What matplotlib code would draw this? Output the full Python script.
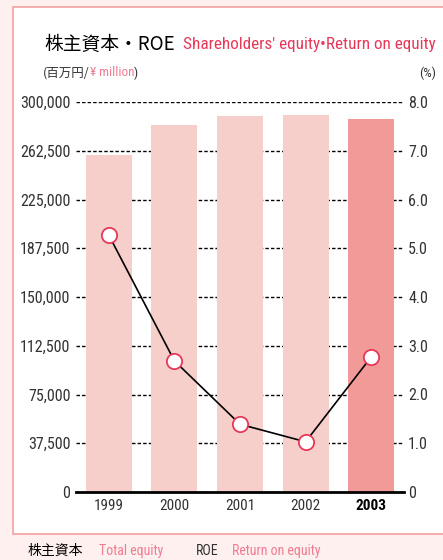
import numpy as np
import matplotlib.pyplot as plt
from matplotlib.patches import Rectangle
from matplotlib.ticker import FuncFormatter

years = ['1999', '2000', '2001', '2002', '2003']
equity = [259000, 282300, 289200, 290000, 286900]
roe = [5.27, 2.69, 1.39, 1.03, 2.77]
left_ticks = [0, 37500, 75000, 112500, 150000, 187500, 225000, 262500, 300000]
right_ticks = [0, 1, 2, 3, 4, 5, 6, 7, 8]

plt.rcParams['font.family'] = ['Roboto Condensed', 'DejaVu Sans', 'Noto Sans CJK JP']
cjk = ['Noto Sans CJK JP', 'DejaVu Sans']
red = '#e8385a'
pink = '#f07c92'
gray = '#333333'

W, H = 443, 560
fig = plt.figure(figsize=(W / 100, H / 100), dpi=100)
fig.patch.set_facecolor('#fdf0ef')

# white panel with pink border
fig.add_artist(Rectangle((13 / W, (H - 534) / H), 1.0, (534 - 7) / H,
                         transform=fig.transFigure, facecolor='white',
                         edgecolor='#f4a0a0', lw=1.2, zorder=0))

ax = fig.add_axes([76 / W, (H - 492) / H, 328 / W, 390 / H])
ax.set_facecolor('none')
ax2 = ax.twinx()

colors = ['#f6cfca'] * 4 + ['#f19a97']
x = np.arange(len(years))
ax.bar(x, equity, width=0.70, color=colors, zorder=2)
ax.set_xlim(-0.5, 4.5)
ax.set_ylim(0, 300000)
ax.set_yticks(left_ticks)
ax.yaxis.set_major_formatter(FuncFormatter(lambda v, p: f'{int(v):,}'))
ax.grid(axis='y', color='black', lw=1, linestyle=(0, (2.5, 1.5)), zorder=1)
ax.set_axisbelow(True)
ax.set_xticks(x)
ax.set_xticklabels(years, fontsize=11, color=gray)
ax.get_xticklabels()[-1].set_fontweight('bold')
ax.get_xticklabels()[-1].set_color('black')
ax.tick_params(axis='x', length=0, pad=5)
ax.tick_params(axis='y', length=0, pad=4, labelsize=11.5, labelcolor=gray)
for s in ['top', 'left', 'right']:
    ax.spines[s].set_visible(False)
ax.spines['bottom'].set_linewidth(2)
ax.spines['bottom'].set_zorder(5)

ax2.plot(x, roe, color='black', lw=1.2, marker='o', markersize=11,
         markerfacecolor='white', markeredgecolor=red, markeredgewidth=1.3, zorder=4)
ax2.set_ylim(0, 8)
ax2.set_yticks(right_ticks)
ax2.yaxis.set_major_formatter(FuncFormatter(lambda v, p: '0' if v == 0 else f'{v:.1f}'))
ax2.tick_params(axis='y', length=0, pad=3, labelsize=11.5, labelcolor=gray)
for s in ax2.spines.values():
    s.set_visible(False)

# titles
fig.text(44 / W, 1 - 44 / H, '株主資本・ROE', family=cjk, fontsize=13.5, color='black', va='center')
fig.text(183 / W, 1 - 44 / H, "Shareholders' equity•Return on equity",
         fontsize=12.3, color=red, va='center')

renderer = fig.canvas.get_renderer()


def chain(x0, y0, parts):
    # place text pieces one after another
    xp = x0
    for s, fam, size, col in parts:
        kw = {'family': fam} if fam else {}
        t = fig.text(xp / W, 1 - y0 / H, s, fontsize=size, color=col, va='center', **kw)
        xp += t.get_window_extent(renderer).width


chain(43, 73, [('(百万円/', cjk, 9, gray),
               ('¥ million', None, 9.5, pink),
               (')', None, 9.5, gray)])
fig.text(436 / W, 1 - 73 / H, '(%)', fontsize=9.5, color=gray, va='center', ha='right')

# bottom legend
fig.text(28 / W, 1 - 551 / H, '株主資本', family=cjk, fontsize=10, color='black', va='center')
fig.text(99 / W, 1 - 551 / H, 'Total equity', fontsize=10, color=pink, va='center')
fig.text(196 / W, 1 - 551 / H, 'ROE', fontsize=10, color=gray, va='center')
fig.text(232 / W, 1 - 551 / H, 'Return on equity', fontsize=10, color=pink, va='center')

fig.savefig('out.png', dpi=100, facecolor=fig.get_facecolor())
